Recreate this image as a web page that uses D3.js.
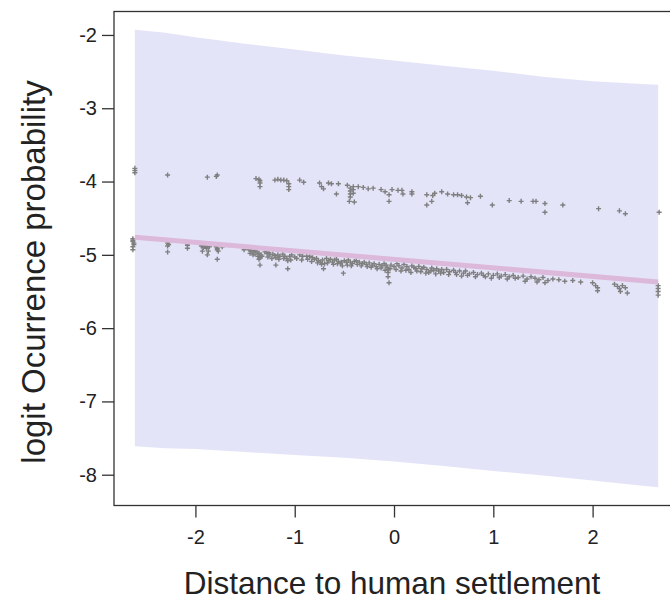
<!DOCTYPE html>
<html>
<head>
<meta charset="utf-8">
<script src="https://cdn.jsdelivr.net/npm/d3@7"></script>
<style>
  body { margin: 0; background: #fff; }
  svg { display: block; font-family: "Liberation Sans", Arial, sans-serif; }
</style>
</head>
<body>
<script>
// confidence band
const bandX = [-2.61, -2.3, -2.0, -1.5, -1.0, -0.5, 0, 0.5, 1.0, 1.5, 2.0, 2.5, 2.66];
const bandUpper = [-1.93, -1.97, -2.03, -2.12, -2.20, -2.28, -2.35, -2.42, -2.49, -2.57, -2.63, -2.67, -2.68];
const bandLower = [-7.61, -7.64, -7.65, -7.69, -7.73, -7.77, -7.82, -7.88, -7.95, -8.01, -8.08, -8.15, -8.17];

// fitted line
const fitX = [-2.61, 2.66];
const fitY = [-4.76, -5.37];

// upper group of partial residuals
const upperPts = [
  [-2.61, -3.82], [-2.61, -3.85], [-2.61, -3.88], [-2.28, -3.91], [-1.88, -3.94], [-1.79, -3.93], [-1.78, -3.91],
  [-1.39, -3.96], [-1.36, -3.97], [-1.35, -3.99], [-1.35, -4.02], [-1.35, -4.07],
  [-1.2, -3.98], [-1.17, -3.97], [-1.14, -3.98], [-1.11, -3.98], [-1.08, -3.99], [-1.06, -4.03], [-1.06, -4.07], [-1.06, -4.11],
  [-0.95, -3.98], [-0.91, -4.01], [-0.75, -4.02], [-0.73, -4.07], [-0.71, -4.10], [-0.66, -4.02], [-0.63, -4.03],
  [-0.58, -4.17], [-0.56, -4.03], [-0.47, -4.05], [-0.44, -4.09], [-0.44, -4.13], [-0.44, -4.17], [-0.44, -4.21],
  [-0.45, -4.27], [-0.40, -4.28], [-0.41, -4.07], [-0.41, -4.11], [-0.41, -4.16], [-0.36, -4.07], [-0.31, -4.08],
  [-0.26, -4.10], [-0.21, -4.09], [-0.13, -4.11], [-0.09, -4.14], [-0.05, -4.18], [-0.05, -4.27], [-0.02, -4.11],
  [0.04, -4.12], [0.08, -4.12], [0.09, -4.17], [0.18, -4.14], [0.18, -4.17], [0.33, -4.18], [0.33, -4.32],
  [0.38, -4.27], [0.41, -4.16], [0.39, -4.19], [0.48, -4.14], [0.54, -4.17], [0.6, -4.18], [0.64, -4.18],
  [0.68, -4.19], [0.73, -4.21], [0.74, -4.29], [0.77, -4.22], [0.87, -4.20], [0.99, -4.32], [1.16, -4.26],
  [1.28, -4.27], [1.40, -4.27], [1.43, -4.27], [1.52, -4.30], [1.52, -4.42], [1.70, -4.32], [2.06, -4.37],
  [2.27, -4.40], [2.33, -4.44], [2.67, -4.42]
];

// lower group of partial residuals
const lowerPts = [
  [-2.63, -4.78], [-2.63, -4.80], [-2.63, -4.82], [-2.62, -4.84], [-2.62, -4.86], [-2.63, -4.89], [-2.63, -4.93],
  [-2.28, -4.82], [-2.28, -4.84], [-2.27, -4.86], [-2.28, -4.88], [-2.28, -4.96],
  [-2.08, -4.85], [-2.08, -4.87], [-2.08, -4.91],
  [-1.94, -4.88], [-1.92, -4.88], [-1.90, -4.88], [-1.88, -4.89], [-1.86, -4.89], [-1.92, -4.90], [-1.89, -4.91],
  [-1.93, -4.95], [-1.87, -4.95], [-1.88, -5.00],
  [-1.79, -4.89], [-1.78, -4.91], [-1.78, -4.93], [-1.77, -4.95], [-1.78, -5.06], [-1.73, -4.89], [-1.51, -4.93],
  [-1.46, -4.93], [-1.44, -4.94], [-1.42, -4.96], [-1.40, -4.94], [-1.38, -4.96], [-1.36, -4.98], [-1.34, -5.00],
  [-1.42, -5.00], [-1.37, -5.02], [-1.35, -5.04], [-1.36, -5.06], [-1.35, -5.14],
  [-1.30, -4.96], [-1.28, -4.98], [-1.26, -4.97], [-1.25, -5.00], [-1.22, -4.99], [-1.20, -5.01], [-1.19, -5.04],
  [-1.19, -5.14], [-1.17, -5.00], [-1.15, -5.02], [-1.12, -4.99], [-1.10, -5.02], [-1.08, -5.05], [-1.07, -5.08],
  [-1.07, -5.19], [-1.05, -5.02], [-1.03, -5.00], [-1.00, -5.03],
  [-0.95, -5.00], [-0.92, -5.02], [-0.88, -5.02], [-0.85, -5.02], [-0.82, -5.04], [-0.80, -5.06], [-0.78, -5.05],
  [-0.76, -5.08], [-0.74, -5.10], [-0.72, -5.07], [-0.71, -5.19], [-0.70, -5.12],
  [-0.68, -5.05], [-0.66, -5.08], [-0.64, -5.06], [-0.62, -5.10], [-0.60, -5.07], [-0.58, -5.06], [-0.56, -5.09],
  [-0.54, -5.12], [-0.52, -5.15], [-0.51, -5.25], [-0.50, -5.08], [-0.48, -5.10], [-0.46, -5.07], [-0.44, -5.10],
  [-0.42, -5.12], [-0.40, -5.09],
  [-0.38, -5.08], [-0.35, -5.10], [-0.32, -5.12], [-0.30, -5.10], [-0.28, -5.13], [-0.25, -5.11], [-0.22, -5.14],
  [-0.20, -5.12], [-0.18, -5.16], [-0.15, -5.13], [-0.12, -5.15], [-0.10, -5.12], [-0.08, -5.14], [-0.07, -5.17],
  [-0.06, -5.20], [-0.06, -5.24], [-0.06, -5.30], [-0.05, -5.38], [-0.03, -5.14], [0.00, -5.16],
  [0.03, -5.12], [0.05, -5.15], [0.08, -5.18], [0.10, -5.13], [0.13, -5.16], [0.15, -5.20], [0.18, -5.15],
  [0.20, -5.17], [0.23, -5.22], [0.25, -5.16], [0.28, -5.19], [0.30, -5.17], [0.33, -5.20], [0.35, -5.24],
  [0.38, -5.18], [0.40, -5.21], [0.43, -5.19], [0.45, -5.22], [0.48, -5.20], [0.50, -5.24],
  [0.53, -5.20], [0.56, -5.23], [0.60, -5.21], [0.63, -5.27], [0.66, -5.22], [0.70, -5.25], [0.72, -5.22],
  [0.76, -5.26], [0.80, -5.24], [0.84, -5.27], [0.88, -5.25], [0.92, -5.30], [0.95, -5.26], [1.00, -5.28],
  [1.04, -5.26], [1.08, -5.29], [1.12, -5.27], [1.16, -5.30], [1.20, -5.28], [1.25, -5.31], [1.30, -5.29],
  [1.34, -5.33], [1.38, -5.30], [1.42, -5.32], [1.46, -5.34], [1.50, -5.31], [1.55, -5.35], [1.60, -5.33],
  [1.66, -5.34], [1.72, -5.36], [1.80, -5.35], [1.88, -5.37], [2.00, -5.38], [2.03, -5.42], [2.05, -5.45], [2.05, -5.49],
  [2.22, -5.40], [2.25, -5.43], [2.27, -5.46], [2.28, -5.50], [2.30, -5.42], [2.33, -5.45], [2.35, -5.52],
  [2.66, -5.42], [2.66, -5.46], [2.66, -5.50], [2.66, -5.55],
  // denser part of the lower band
  [-1.45, -4.98], [-1.40, -4.99], [-1.33, -5.02], [-1.27, -5.03], [-1.23, -5.05], [-1.16, -5.06], [-1.11, -5.05],
  [-1.04, -5.07], [-0.98, -5.05], [-0.93, -5.07], [-0.87, -5.06], [-0.83, -5.09], [-0.77, -5.11], [-0.73, -5.13],
  [-0.67, -5.11], [-0.61, -5.13], [-0.57, -5.12], [-0.53, -5.10], [-0.47, -5.14], [-0.43, -5.15], [-0.37, -5.13],
  [-0.33, -5.15], [-0.27, -5.16], [-0.23, -5.17], [-0.17, -5.19], [-0.13, -5.18], [-0.09, -5.21], [-0.04, -5.19],
  [0.02, -5.20], [0.07, -5.22], [0.12, -5.21], [0.17, -5.24], [0.22, -5.19], [0.27, -5.23], [0.32, -5.25],
  [0.37, -5.22], [0.42, -5.26], [0.47, -5.25], [0.55, -5.27], [0.62, -5.24], [0.68, -5.29], [0.74, -5.28],
  [0.82, -5.30], [0.90, -5.28], [0.98, -5.32], [1.06, -5.31], [1.14, -5.33], [1.22, -5.32], [1.32, -5.36],
  [1.44, -5.37], [1.52, -5.38]
];

const xTicks = [-2, -1, 0, 1, 2];
const yTicks = [-2, -3, -4, -5, -6, -7, -8];

const W = 670, H = 601;
const plot = {left: 114, right: 679, top: 11.5, bottom: 505.5};

const svg = d3.select('body').append('svg')
  .attr('width', W)
  .attr('height', H);

const x = d3.scaleLinear().domain([-2.82, 2.87]).range([plot.left, plot.right]);
const y = d3.scaleLinear().domain([-8.42, -1.68]).range([plot.bottom, plot.top]);

// band
const band = bandX.map((v, i) => ({x: v, lo: bandLower[i], hi: bandUpper[i]}));
svg.append('path')
  .datum(band)
  .attr('fill', '#e4e4f9')
  .attr('d', d3.area().x(d => x(d.x)).y0(d => y(d.lo)).y1(d => y(d.hi)));

// points drawn as "+" (pch = 3)
function drawPlus(pts) {
  svg.append('g')
    .selectAll('path')
    .data(pts)
    .join('path')
    .attr('transform', d => `translate(${x(d[0])},${y(d[1])})`)
    .attr('d', 'M-2.5,0H2.5M0,-2.5V2.5')
    .attr('stroke', '#7f7f7f')
    .attr('stroke-width', 1.4)
    .attr('fill', 'none');
}
drawPlus(upperPts);
drawPlus(lowerPts);

// fitted line
svg.append('path')
  .datum(fitX.map((v, i) => [v, fitY[i]]))
  .attr('fill', 'none')
  .attr('stroke', '#dcb8da')
  .attr('stroke-width', 5)
  .attr('d', d3.line().x(d => x(d[0])).y(d => y(d[1])));

// box
svg.append('rect')
  .attr('x', plot.left)
  .attr('y', plot.top)
  .attr('width', plot.right - plot.left)
  .attr('height', plot.bottom - plot.top)
  .attr('fill', 'none')
  .attr('stroke', '#333')
  .attr('stroke-width', 1.3);

// axes, R style
const xAxis = d3.axisBottom(x).tickValues(xTicks).tickSize(12).tickPadding(12)
  .tickFormat(d3.format('d'));
const gx = svg.append('g')
  .attr('transform', `translate(0,${plot.bottom})`)
  .call(xAxis);
gx.select('.domain').remove();

const yAxis = d3.axisLeft(y).tickValues(yTicks).tickSize(12).tickPadding(5)
  .tickFormat(d3.format('d'));
const gy = svg.append('g')
  .attr('transform', `translate(${plot.left},0)`)
  .call(yAxis);
gy.select('.domain').remove();

svg.selectAll('.tick line').attr('stroke', '#333').attr('stroke-width', 1.3);
svg.selectAll('.tick text')
  .attr('font-family', '"Liberation Sans", Arial, sans-serif')
  .attr('font-size', 20)
  .attr('fill', '#222')
  .text(d => d < 0 ? '-' + Math.abs(d) : d);

// titles
svg.append('text')
  .attr('x', 392)
  .attr('y', 594)
  .attr('text-anchor', 'middle')
  .attr('font-size', 31.5)
  .attr('fill', '#222')
  .text('Distance to human settlement');

svg.append('text')
  .attr('transform', 'translate(45,272) rotate(-90)')
  .attr('text-anchor', 'middle')
  .attr('font-size', 33)
  .attr('fill', '#222')
  .text('logit Ocurrence probability');
</script>
</body>
</html>
